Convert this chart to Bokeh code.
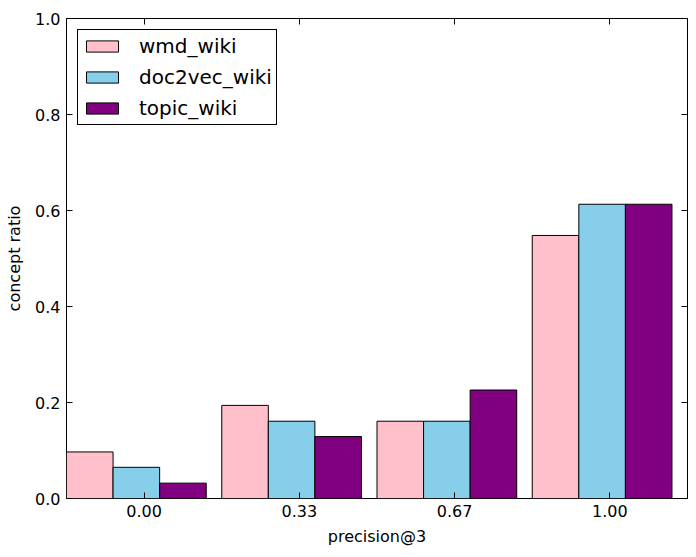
from bokeh.plotting import figure
from bokeh.models import (ColumnDataSource, FixedTicker, LinearAxis, Range1d,
                          Legend, LegendItem, CustomJSTickFormatter)
from bokeh.embed import file_html
from bokeh.resources import INLINE

# precision@3 buckets and the share of concepts falling in each
tick_labels = ["0.00", "0.33", "0.67", "1.00"]
wmd_wiki = [0.097, 0.194, 0.161, 0.548]
doc2vec_wiki = [0.065, 0.161, 0.161, 0.613]
topic_wiki = [0.032, 0.129, 0.226, 0.613]
y_ticks = [0.0, 0.2, 0.4, 0.6, 0.8, 1.0]
y_tick_labels = ["0.0", "0.2", "0.4", "0.6", "0.8", "1.0"]

series_names = ["wmd_wiki", "doc2vec_wiki", "topic_wiki"]
series_values = [wmd_wiki, doc2vec_wiki, topic_wiki]
colors = ["pink", "skyblue", "purple"]

# bars of one group sit side by side starting half a slot left of the tick
bar_w = 0.3
offsets = [-0.35, -0.05, 0.25]
positions = list(range(len(tick_labels)))

FONT = "DejaVu Sans"
TICK_LEN = 6

p = figure(width=696, height=557, output_backend="svg", toolbar_location=None,
           x_range=Range1d(-0.5, 3.5), y_range=Range1d(0, 1.0),
           min_border_left=66, min_border_right=9, min_border_top=18,
           min_border_bottom=59)

p.xgrid.visible = False
p.ygrid.visible = False
p.outline_line_color = "black"
p.outline_line_width = 1
p.background_fill_color = "white"
p.border_fill_color = "white"

renderers = []
for name, vals, col, off in zip(series_names, series_values, colors, offsets):
    src = ColumnDataSource(dict(x=[i + off for i in positions], top=vals))
    r = p.vbar(x="x", top="top", bottom=0, width=bar_w, source=src,
               fill_color=col, line_color="black", line_width=1)
    renderers.append((name, r))

# axes: inward ticks on all four sides, classic style
xt = FixedTicker(ticks=positions)
yt = FixedTicker(ticks=y_ticks)

xa = p.xaxis[0]
xa.ticker = xt
xa.major_label_overrides = {i: lab for i, lab in zip(positions, tick_labels)}
ya = p.yaxis[0]
ya.ticker = yt
ya.major_label_overrides = {v: lab for v, lab in zip(y_ticks, y_tick_labels)}

xa.axis_label = "precision@3"
ya.axis_label = "concept ratio"

for ax in (xa, ya):
    ax.axis_line_color = None
    ax.major_tick_in = TICK_LEN
    ax.major_tick_out = 0
    ax.minor_tick_line_color = None
    ax.major_tick_line_color = "black"
    ax.major_label_text_font = FONT
    ax.major_label_text_font_size = "16px"
    ax.major_label_text_color = "black"
    ax.axis_label_text_font = FONT
    ax.axis_label_text_font_size = "16px"
    ax.axis_label_text_font_style = "normal"
    ax.axis_label_text_color = "black"
    ax.major_label_standoff = 6

xa.axis_label_standoff = 7
ya.axis_label_standoff = 8

# tick marks only (no labels) along the top and right edges
blank = CustomJSTickFormatter(code="return ''")
top_ax = LinearAxis(ticker=xt, formatter=blank, axis_line_color=None,
                    major_tick_in=TICK_LEN, major_tick_out=0,
                    minor_tick_line_color=None, major_label_standoff=0)
right_ax = LinearAxis(ticker=yt, formatter=blank, axis_line_color=None,
                      major_tick_in=TICK_LEN, major_tick_out=0,
                      minor_tick_line_color=None, major_label_standoff=0)
p.add_layout(top_ax, "above")
p.add_layout(right_ax, "right")
p.min_border_top = 18
p.min_border_right = 9

legend = Legend(items=[LegendItem(label=n, renderers=[r]) for n, r in renderers],
                location="top_left")
legend.margin = 11
legend.padding = 4
legend.spacing = 7
legend.glyph_width = 40
legend.glyph_height = 14
legend.label_standoff = 17
legend.label_text_font = FONT
legend.label_text_font_size = "20px"
legend.label_text_color = "black"
legend.border_line_color = "black"
legend.border_line_width = 1
legend.border_line_alpha = 1
legend.background_fill_alpha = 1
p.add_layout(legend, "center")

open("out.html", "w").write(file_html(p, INLINE))
